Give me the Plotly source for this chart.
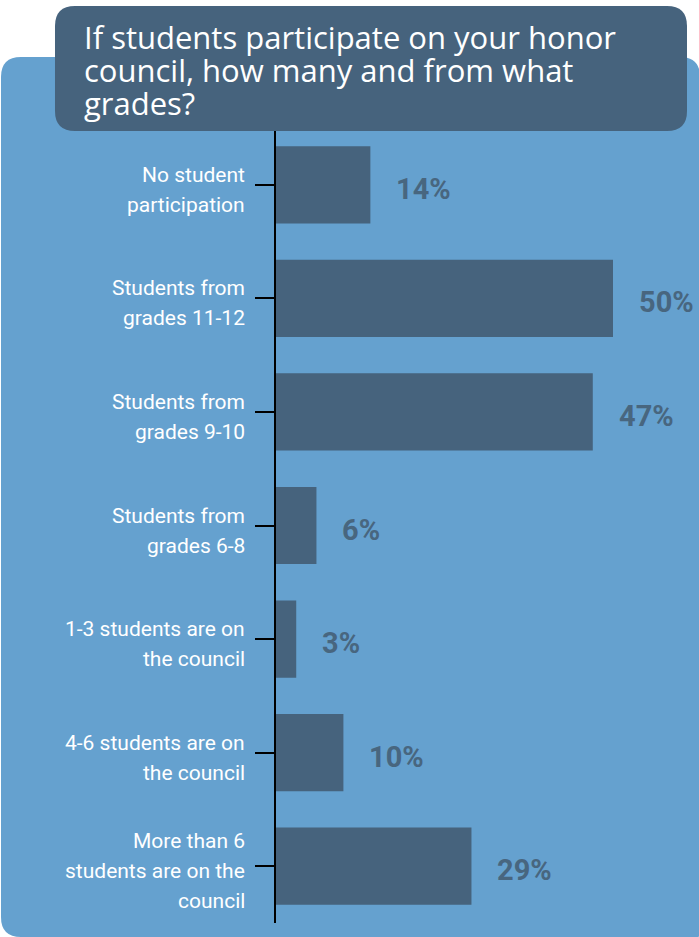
import plotly.graph_objects as go

categories = [
    "No student<br>participation",
    "Students from<br>grades 11-12",
    "Students from<br>grades 9-10",
    "Students from<br>grades 6-8",
    "1-3 students are on<br>the council",
    "4-6 students are on<br>the council",
    "More than 6<br>students are on the<br>council",
]
values = [14, 50, 47, 6, 3, 10, 29]
value_labels = ["14%", "50%", "47%", "6%", "3%", "10%", "29%"]
title_lines = [
    "If students participate on your honor",
    "council, how many and from what",
    "grades?",
]

W, H = 699, 937
L, R, T, B = 276, 699, 128, 923

BAR = "#46637d"
PANEL = "#65a1cf"
VALC = "#48667f"


def px2x(px):
    return (px - L) / (R - L)


def py2y(py):
    return (B - py) / (B - T)


def rrect(x0, y0, x1, y1, r_tl, r_tr, r_br, r_bl):
    def P(px, py):
        return f"{px2x(px):.5f},{py2y(py):.5f}"
    return (
        f"M {P(x0 + r_tl, y0)} L {P(x1 - r_tr, y0)} Q {P(x1, y0)} {P(x1, y0 + r_tr)} "
        f"L {P(x1, y1 - r_br)} Q {P(x1, y1)} {P(x1 - r_br, y1)} "
        f"L {P(x0 + r_bl, y1)} Q {P(x0, y1)} {P(x0, y1 - r_bl)} "
        f"L {P(x0, y0 + r_tl)} Q {P(x0, y0)} {P(x0 + r_tl, y0)} Z"
    )


fig = go.Figure()
fig.add_trace(go.Bar(
    x=values, y=categories, orientation="h",
    marker=dict(color=BAR, line=dict(width=0)),
    width=0.68, hoverinfo="skip",
))

annotations = []
# value labels
for c, v, t in zip(categories, values, value_labels):
    annotations.append(dict(
        x=v, y=c, xref="x", yref="y", text=t, showarrow=False,
        xanchor="left", yanchor="middle", xshift=24, yshift=-4,
        font=dict(family="Roboto", size=29, color=VALC, weight="bold"),
    ))
# category labels, one annotation per line
for c in categories:
    lines = c.split("<br>")
    n = len(lines)
    for i, ln in enumerate(lines):
        off = (i - (n - 1) / 2) * 30 + 5
        annotations.append(dict(
            x=px2x(247), y=c, xref="paper", yref="y", text=ln, showarrow=False,
            xanchor="right", yanchor="middle", yshift=-off,
            font=dict(family="Roboto", size=21, color="white"),
        ))
# title lines
for i, ln in enumerate(title_lines):
    annotations.append(dict(
        x=px2x(82), y=py2y(37 + 33 * i), xref="paper", yref="paper", text=ln,
        showarrow=False, xanchor="left", yanchor="middle",
        font=dict(family="Open Sans", size=31, color="white"),
    ))

shapes = [
    dict(type="path", xref="paper", yref="paper", layer="below",
         path=rrect(1, 57, 700, 937, 20, 20, 3, 20),
         fillcolor=PANEL, line=dict(width=0)),
    dict(type="path", xref="paper", yref="paper", layer="above",
         path=rrect(55, 6, 687, 131, 20, 20, 20, 20),
         fillcolor=BAR, line=dict(width=0)),
]

fig.update_layout(
    width=W, height=H,
    margin=dict(l=L, r=W - R, t=T, b=H - B, pad=0),
    paper_bgcolor="white", plot_bgcolor="rgba(0,0,0,0)",
    showlegend=False, shapes=shapes, annotations=annotations,
    bargap=0.32,
)
fig.update_xaxes(range=[0, 62.76], visible=False, fixedrange=True)
fig.update_yaxes(
    type="category", categoryorder="array", categoryarray=categories,
    range=[6.5, -0.5], showline=True, linecolor="black", linewidth=2,
    ticks="outside", ticklen=19, tickwidth=2, tickcolor="black",
    showticklabels=False, showgrid=False, zeroline=False, fixedrange=True,
)

fig.write_html(
    "out.html",
    config={"displayModeBar": False, "staticPlot": True},
    post_script="document.body.style.margin='0';document.body.style.overflow='hidden';",
)
